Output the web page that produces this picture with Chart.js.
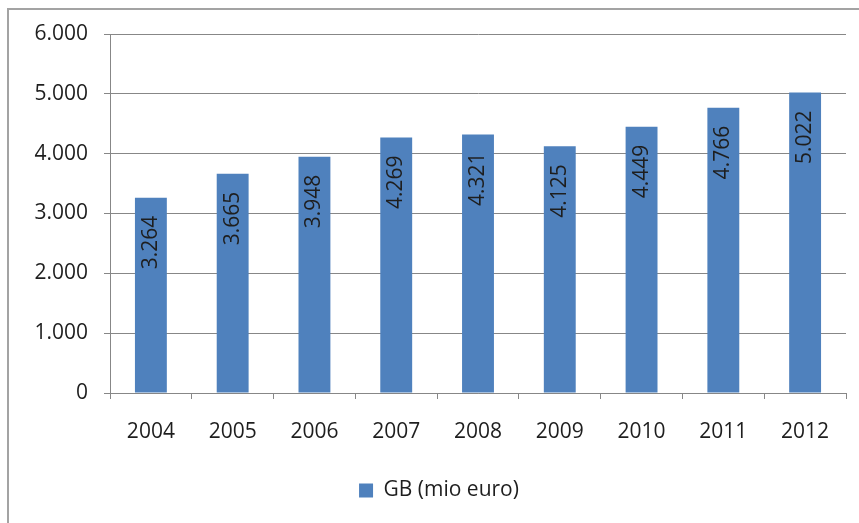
<!DOCTYPE html>
<html lang="nl">
<head>
  <meta charset="UTF-8">
  <title>GB (mio euro)</title>
  <script src="https://cdn.jsdelivr.net/npm/chart.js@4.4.0/dist/chart.umd.min.js"></script>
  <style>
    html, body { margin: 0; padding: 0; background: #fff; overflow: hidden; }
    #frame {
      position: absolute; left: 7px; top: 8px; width: 900px; height: 600px;
      border: 2px solid #a3a3a3;
    }
    #wrap { position: absolute; left: 0; top: 0; width: 859px; height: 523px; }
  </style>
</head>
<body>
  <div id="frame"></div>
  <div id="wrap"><canvas id="chart" width="859" height="523"></canvas></div>

  <script>
    // data
    const years = ['2004', '2005', '2006', '2007', '2008', '2009', '2010', '2011', '2012'];
    const gbValues = [3264, 3665, 3948, 4269, 4321, 4125, 4449, 4766, 5022];
    const seriesLabel = 'GB (mio euro)';

    const gridColor = '#878787';
    const textColor = '#1e1e1e';
    const fontFamily = '"Open Sans", "DejaVu Sans", sans-serif';

    // 3264 -> "3.264"
    function fmt(v) {
      return String(v).replace(/\B(?=(\d{3})+(?!\d))/g, '.');
    }

    // rotated value labels inside top of each bar
    const barLabels = {
      id: 'barLabels',
      afterDatasetsDraw(chart) {
        const ctx = chart.ctx;
        const meta = chart.getDatasetMeta(0);
        ctx.save();
        ctx.font = '21px ' + fontFamily;
        ctx.fillStyle = textColor;
        ctx.textAlign = 'right';
        ctx.textBaseline = 'middle';
        meta.data.forEach((bar, i) => {
          ctx.save();
          ctx.translate(bar.x, bar.y + 18);
          ctx.rotate(-Math.PI / 2);
          ctx.fillText(fmt(gbValues[i]), 0, 0);
          ctx.restore();
        });
        ctx.restore();
      }
    };

    Chart.defaults.font.family = fontFamily;
    Chart.defaults.font.size = 21;
    Chart.defaults.color = textColor;

    new Chart(document.getElementById('chart'), {
      type: 'bar',
      data: {
        labels: years,
        datasets: [{
          label: seriesLabel,
          data: gbValues,
          backgroundColor: '#4f81bd',
          categoryPercentage: 1,
          barPercentage: 0.39
        }]
      },
      options: {
        responsive: false,
        animation: false,
        layout: { padding: { top: 34, right: 13, left: 32, bottom: 12 } },
        plugins: {
          legend: {
            position: 'bottom',
            labels: { boxWidth: 14, boxHeight: 14, padding: 10, color: textColor }
          },
          tooltip: { enabled: false }
        },
        scales: {
          x: {
            grid: { drawOnChartArea: false, drawTicks: true, tickLength: 6, color: gridColor },
            border: { color: gridColor },
            ticks: { padding: 20, color: textColor },
            afterFit(scale) { scale.height = 77; }
          },
          y: {
            min: 0,
            max: 6000,
            ticks: { stepSize: 1000, padding: 16, color: textColor, callback: v => fmt(v) },
            grid: { color: gridColor, tickLength: 6 },
            border: { color: gridColor },
            afterFit(scale) { scale.width = 78; }
          }
        }
      },
      plugins: [barLabels]
    });
  </script>
</body>
</html>
